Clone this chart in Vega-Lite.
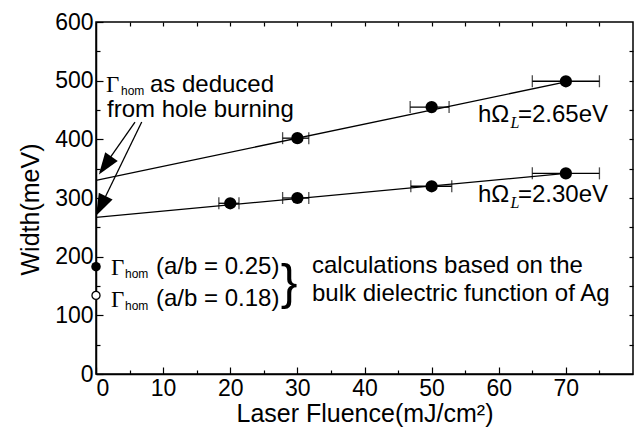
{
  "$schema": "https://vega.github.io/schema/vega-lite/v6.json",
  "autosize": "none",
  "width": 537,
  "height": 352,
  "padding": {"left": 96, "top": 22, "right": 11, "bottom": 58},
  "background": "white",
  "config": {
    "font": "Liberation Sans",
    "view": {"stroke": "black", "strokeWidth": 1.5},
    "axis": {"domainColor": "black", "tickColor": "black", "labelColor": "black", "titleColor": "black", "grid": false, "labelFont": "Liberation Sans", "titleFont": "Liberation Sans", "titleFontWeight": "normal", "domainWidth": 1.5, "tickWidth": 1.2}
  },
  "datasets": {
    "fits": [
      {"series": "2.65", "x": 0, "y": 330},
      {"series": "2.65", "x": 70, "y": 498},
      {"series": "2.30", "x": 0, "y": 267},
      {"series": "2.30", "x": 70, "y": 342}
    ],
    "meas": [
      {"series": "2.65", "fluence": 30, "width": 402, "lo": 27.8, "hi": 31.7},
      {"series": "2.65", "fluence": 50, "width": 455, "lo": 46.8, "hi": 52.6},
      {"series": "2.65", "fluence": 70, "width": 499, "lo": 65, "hi": 75},
      {"series": "2.30", "fluence": 20, "width": 291, "lo": 18.3, "hi": 21.3},
      {"series": "2.30", "fluence": 30, "width": 300, "lo": 27.8, "hi": 31.7},
      {"series": "2.30", "fluence": 50, "width": 320, "lo": 46.9, "hi": 53.0},
      {"series": "2.30", "fluence": 70, "width": 342, "lo": 65, "hi": 75}
    ],
    "arrows": [
      {"x": 5.81, "y": 429.5, "x2": 0.6, "y2": 344.3},
      {"x": 6.81, "y": 429.5, "x2": 0.3, "y2": 276.1}
    ],
    "sans": [
      {"label": "as deduced", "x": 8.04, "y": 480.7},
      {"label": "from hole burning", "x": 1.64, "y": 438.1},
      {"label": "(a/b = 0.25)", "x": 8.94, "y": 170.5},
      {"label": "(a/b = 0.18)", "x": 8.94, "y": 115.9},
      {"label": "calculations based on the", "x": 32.18, "y": 172.2},
      {"label": "bulk dielectric function of Ag", "x": 32.18, "y": 124.4},
      {"label": "hΩ", "x": 56.91, "y": 429.5},
      {"label": "hΩ", "x": 56.91, "y": 293.2}
    ],
    "sansRight": [
      {"label": "=2.65eV", "x": 76.28, "y": 429.5},
      {"label": "=2.30eV", "x": 76.28, "y": 293.2}
    ],
    "gamma": [
      {"label": "Γ", "x": 1.49, "y": 480.7},
      {"label": "Γ", "x": 2.23, "y": 168.8},
      {"label": "Γ", "x": 2.23, "y": 114.2}
    ],
    "hom": [
      {"label": "hom", "x": 3.72, "y": 475.6},
      {"label": "hom", "x": 4.32, "y": 163.6},
      {"label": "hom", "x": 4.32, "y": 109.1}
    ],
    "sub": [
      {"label": "L", "x": 62.42, "y": 419.3},
      {"label": "L", "x": 62.42, "y": 283.0}
    ],
    "brace": [
      {"label": "}", "x": 28.75, "y": 127.8}
    ]
  },
  "resolve": {"axis": {"x": "independent", "y": "independent"}},
  "layer": [
    {
      "data": {"name": "fits"},
      "mark": {"type": "line", "color": "black", "strokeWidth": 1.3},
      "encoding": {
        "x": {"field": "x", "type": "quantitative", "scale": {"domain": [0, 80], "nice": false, "zero": false},
          "axis": {"orient": "bottom", "values": [0, 10, 20, 30, 40, 50, 60, 70], "tickSize": -7, "labelPadding": 10, "labelFontSize": 23, "title": "Laser Fluence(mJ/cm²)", "titleFontSize": 25, "titleY": 47, "titleBaseline": "alphabetic"}},
        "y": {"field": "y", "type": "quantitative", "scale": {"domain": [0, 600], "nice": false, "zero": false},
          "axis": {"orient": "left", "values": [0, 100, 200, 300, 400, 500, 600], "tickSize": -7, "labelPadding": 10, "labelFontSize": 23, "title": "Width(meV)", "titleFontSize": 25, "titleX": -66, "titleY": 187, "titleAngle": -90, "titleAlign": "center", "titleBaseline": "middle"}},
        "detail": {"field": "series"}
      }
    },
    {
      "data": {"name": "meas"},
      "mark": {"type": "rule", "color": "black", "strokeWidth": 1.3},
      "encoding": {
        "x": {"field": "lo", "type": "quantitative", "axis": {"orient": "bottom", "values": [5, 15, 25, 35, 45, 55, 65, 75], "tickSize": -4, "labels": false, "domain": false, "title": null}},
        "x2": {"field": "hi"},
        "y": {"field": "width", "type": "quantitative", "axis": {"orient": "left", "values": [50, 150, 250, 350, 450, 550], "tickSize": -4, "labels": false, "domain": false, "title": null}}
      }
    },
    {
      "data": {"name": "meas"},
      "mark": {"type": "tick", "orient": "vertical", "color": "black", "size": 12, "thickness": 1.3},
      "encoding": {
        "x": {"field": "lo", "type": "quantitative", "axis": {"orient": "top", "values": [5, 10, 15, 20, 25, 30, 35, 40, 45, 50, 55, 60, 65, 70, 75], "tickSize": -4, "labels": false, "domain": false, "title": null}},
        "y": {"field": "width", "type": "quantitative", "axis": {"orient": "right", "values": [50, 100, 150, 200, 250, 300, 350, 400, 450, 500, 550], "tickSize": -4, "labels": false, "domain": false, "title": null}}
      }
    },
    {
      "data": {"name": "meas"},
      "mark": {"type": "tick", "orient": "vertical", "color": "black", "size": 12, "thickness": 1.3},
      "encoding": {
        "x": {"field": "hi", "type": "quantitative", "axis": null},
        "y": {"field": "width", "type": "quantitative", "axis": null}
      }
    },
    {
      "data": {"name": "meas"},
      "mark": {"type": "point", "shape": "circle", "filled": true, "color": "black", "size": 150, "opacity": 1},
      "encoding": {
        "x": {"field": "fluence", "type": "quantitative", "axis": null},
        "y": {"field": "width", "type": "quantitative", "axis": null}
      }
    },
    {
      "data": {"values": [{"x": 0, "y": 183}]},
      "mark": {"type": "point", "shape": "circle", "filled": true, "color": "black", "size": 90, "opacity": 1, "clip": false},
      "encoding": {
        "x": {"field": "x", "type": "quantitative", "axis": null},
        "y": {"field": "y", "type": "quantitative", "axis": null}
      }
    },
    {
      "data": {"values": [{"x": 0, "y": 134}]},
      "mark": {"type": "point", "shape": "circle", "filled": false, "fill": "white", "fillOpacity": 1, "stroke": "black", "strokeWidth": 1.3, "size": 65, "opacity": 1, "clip": false},
      "encoding": {
        "x": {"field": "x", "type": "quantitative", "axis": null},
        "y": {"field": "y", "type": "quantitative", "axis": null}
      }
    },
    {
      "data": {"name": "arrows"},
      "mark": {"type": "rule", "color": "black", "strokeWidth": 1.3},
      "encoding": {
        "x": {"field": "x", "type": "quantitative", "axis": null},
        "y": {"field": "y", "type": "quantitative", "axis": null},
        "x2": {"field": "x2"},
        "y2": {"field": "y2"}
      }
    },
    {
      "data": {"values": [{"x": 1.37, "y": 355.2}]},
      "mark": {"type": "point", "shape": "M0,-1L0.7,1L-0.7,1Z", "filled": true, "color": "black", "size": 480, "angle": 215, "opacity": 1},
      "encoding": {
        "x": {"field": "x", "type": "quantitative", "axis": null},
        "y": {"field": "y", "type": "quantitative", "axis": null}
      }
    },
    {
      "data": {"values": [{"x": 0.73, "y": 286.5}]},
      "mark": {"type": "point", "shape": "M0,-1L0.7,1L-0.7,1Z", "filled": true, "color": "black", "size": 480, "angle": 206, "opacity": 1},
      "encoding": {
        "x": {"field": "x", "type": "quantitative", "axis": null},
        "y": {"field": "y", "type": "quantitative", "axis": null}
      }
    },
    {
      "data": {"name": "sans"},
      "mark": {"type": "text", "font": "Liberation Sans", "fontSize": 24, "align": "left", "baseline": "alphabetic", "color": "black"},
      "encoding": {
        "x": {"field": "x", "type": "quantitative", "axis": null},
        "y": {"field": "y", "type": "quantitative", "axis": null},
        "text": {"field": "label"}
      }
    },
    {
      "data": {"name": "sansRight"},
      "mark": {"type": "text", "font": "Liberation Sans", "fontSize": 24, "align": "right", "baseline": "alphabetic", "color": "black"},
      "encoding": {
        "x": {"field": "x", "type": "quantitative", "axis": null},
        "y": {"field": "y", "type": "quantitative", "axis": null},
        "text": {"field": "label"}
      }
    },
    {
      "data": {"name": "gamma"},
      "mark": {"type": "text", "font": "Liberation Serif", "fontSize": 23, "align": "left", "baseline": "alphabetic", "color": "black"},
      "encoding": {
        "x": {"field": "x", "type": "quantitative", "axis": null},
        "y": {"field": "y", "type": "quantitative", "axis": null},
        "text": {"field": "label"}
      }
    },
    {
      "data": {"name": "hom"},
      "mark": {"type": "text", "font": "Liberation Sans", "fontSize": 12, "align": "left", "baseline": "alphabetic", "color": "black"},
      "encoding": {
        "x": {"field": "x", "type": "quantitative", "axis": null},
        "y": {"field": "y", "type": "quantitative", "axis": null},
        "text": {"field": "label"}
      }
    },
    {
      "data": {"name": "sub"},
      "mark": {"type": "text", "font": "Liberation Serif", "fontStyle": "italic", "fontSize": 16, "align": "center", "baseline": "alphabetic", "color": "black"},
      "encoding": {
        "x": {"field": "x", "type": "quantitative", "axis": null},
        "y": {"field": "y", "type": "quantitative", "axis": null},
        "text": {"field": "label"}
      }
    },
    {
      "data": {"name": "brace"},
      "mark": {"type": "text", "font": "Liberation Sans", "fontSize": 50, "align": "center", "baseline": "alphabetic", "color": "black"},
      "encoding": {
        "x": {"field": "x", "type": "quantitative", "axis": null},
        "y": {"field": "y", "type": "quantitative", "axis": null},
        "text": {"field": "label"}
      }
    }
  ]
}
